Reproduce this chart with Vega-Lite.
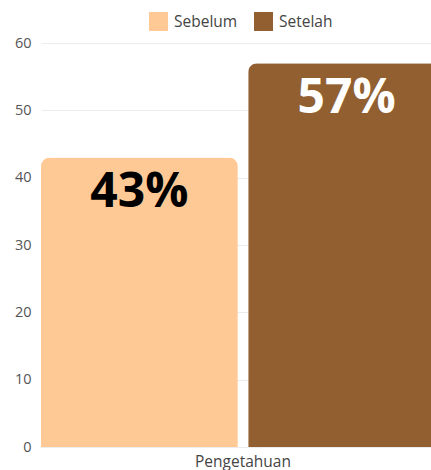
{
  "$schema": "https://vega.github.io/schema/vega-lite/v6.json",
  "autosize": "none",
  "padding": {"left": 41, "top": 43, "right": 0, "bottom": 23},
  "width": 404,
  "height": 404,
  "background": "white",
  "config": {
    "font": "Open Sans",
    "view": {"stroke": null}
  },
  "data": {
    "values": [
      {"category": "Pengetahuan", "series": "Sebelum", "value": 43, "label": "43%"},
      {"category": "Pengetahuan", "series": "Setelah", "value": 57, "label": "57%"}
    ]
  },
  "encoding": {
    "x": {
      "field": "category",
      "type": "nominal",
      "title": null,
      "scale": {"paddingInner": 0, "paddingOuter": 0},
      "axis": {"labelAngle": 0, "labelFontSize": 15.5, "labelColor": "#444", "labelPadding": 7, "ticks": false, "domain": false}
    },
    "xOffset": {
      "field": "series",
      "type": "nominal",
      "sort": ["Sebelum", "Setelah"],
      "scale": {"paddingInner": 0.05, "paddingOuter": 0}
    },
    "y": {
      "field": "value",
      "type": "quantitative",
      "title": null,
      "scale": {"domain": [0, 60], "nice": false},
      "axis": {"values": [0, 10, 20, 30, 40, 50, 60], "labelFontSize": 14.5, "labelColor": "#555", "labelPadding": 10, "ticks": false, "domain": false, "gridColor": "#ececec", "gridWidth": 1}
    }
  },
  "layer": [
    {
      "mark": {"type": "bar", "cornerRadiusTopLeft": 9, "cornerRadiusTopRight": 9},
      "encoding": {
        "color": {
          "field": "series",
          "type": "nominal",
          "sort": ["Sebelum", "Setelah"],
          "scale": {"domain": ["Sebelum", "Setelah"], "range": ["#fec995", "#915f30"]},
          "legend": {"orient": "none", "legendX": 108, "legendY": -31, "direction": "horizontal", "title": null, "symbolType": "square", "symbolSize": 360, "symbolStrokeWidth": 0, "labelFontSize": 15.5, "labelColor": "#444", "columnPadding": 16, "labelOffset": 6}
        }
      }
    },
    {
      "mark": {"type": "text", "fontSize": 48, "fontWeight": "bold", "baseline": "alphabetic", "dy": 50, "align": "center"},
      "encoding": {
        "text": {"field": "label", "type": "nominal"},
        "color": {
          "condition": {"test": "datum.series === 'Setelah'", "value": "#ffffff"},
          "value": "#000000"
        }
      }
    }
  ]
}
